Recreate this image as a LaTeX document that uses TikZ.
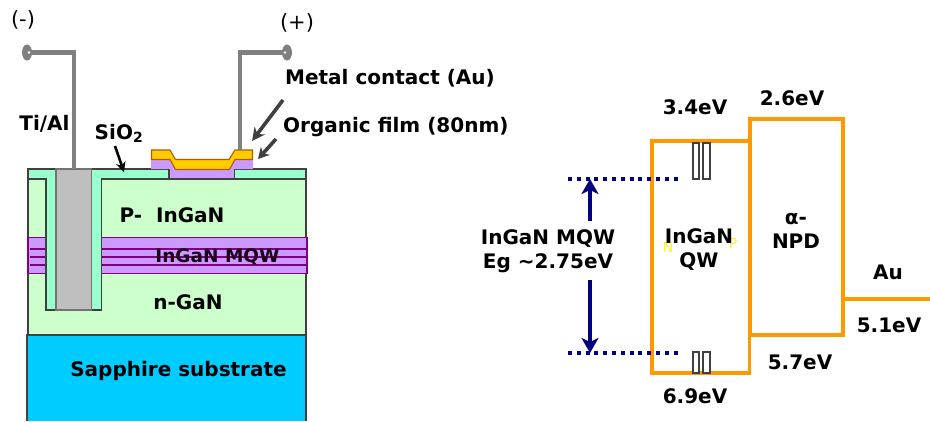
\documentclass[tikz,border=0pt]{standalone}
\usepackage{fontspec}
\setmainfont{DejaVu Sans}
\usetikzlibrary{arrows.meta}
\definecolor{mint}{HTML}{99FFCC}
\definecolor{pale}{HTML}{CCFFCC}
\definecolor{lilac}{HTML}{CC99FF}
\definecolor{sky}{HTML}{00CCFF}
\definecolor{gold}{HTML}{FFCC00}
\definecolor{goldedge}{HTML}{B45A00}
\definecolor{orng}{HTML}{FF9900}
\definecolor{navy}{HTML}{000080}
\definecolor{dk}{HTML}{404040}
\definecolor{wire}{HTML}{808080}
\definecolor{plum}{HTML}{800080}
\tikzset{x=1pt,y=-1pt,
  edge/.style={draw=dk,line width=2.2pt},
  lab/.style={font=\fontsize{20}{24}\selectfont\bfseries,text=black,inner sep=0pt,align=center},
  plain/.style={font=\fontsize{21}{25}\selectfont,text=black,inner sep=0pt},
  wireline/.style={draw=wire,line width=4.4pt},
  band/.style={draw=orng,line width=3.4pt},
  point/.style={-{Stealth[length=13pt,width=13pt]},line width=3.6pt,draw=dk},
  navyarrow/.style={-{Stealth[length=15pt,width=17pt,inset=4pt]},line width=3.6pt,draw=navy},
  level/.style={draw=navy,line width=4pt,dash pattern=on 4pt off 4.8pt},
  well/.style={draw=dk,line width=1.6pt,fill=white}
}
\begin{document}
\begin{tikzpicture}
\useasboundingbox (0,0) rectangle (930,421);
% substrate and body
\fill[sky] (27,335) rectangle (306,421);
\draw[edge] (27,421) -- (27,335) -- (306,335) -- (306,421);
\filldraw[fill=pale,edge] (28,169) rectangle (306,335);
% MQW
\filldraw[fill=lilac,draw=plum,line width=1.4pt] (28,237.5) rectangle (307,273.5);
\foreach \y in {249,257,265}{\draw[plum,line width=1.1pt] (30,\y) -- (306,\y);}
\node[lab,font=\fontsize{18.5}{22}\selectfont\bfseries,text=black!80!plum] at (217.5,257) {InGaN MQW};
% oxide
\filldraw[fill=mint,draw=dk,line width=1.8pt] (46,310) -- (46,179) -- (28,179) -- (28,169) -- (168.5,169) -- (168.5,179) -- (101.5,179) -- (101.5,310) -- cycle;
\filldraw[fill=mint,draw=dk,line width=1.8pt] (306,179) -- (234.5,179) -- (234.5,169) -- (306,169) -- cycle;
% via metal
\filldraw[fill=black!25,draw=black!55,line width=1.4pt] (56,169) rectangle (91.5,310);
% organic film
\fill[lilac] (151,160) -- (170,160) -- (175.5,169) -- (229.5,169) -- (235,160) -- (253,160) -- (253,169) -- (234.5,169) -- (234.5,179) -- (169,179) -- (169,169) -- (151,169) -- cycle;
\draw[dk,line width=1.6pt] (169,169) -- (169,179) -- (234.5,179) -- (234.5,169);
% gold
\filldraw[fill=gold,draw=goldedge,line width=1.1pt] (151.5,150) -- (170,150) -- (175.5,159.5) -- (229,159.5) -- (235,150) -- (252.5,150) -- (252.5,159.5) -- (235,159.5) -- (229.5,169.5) -- (175.5,169.5) -- (170,159.5) -- (151.5,159.5) -- cycle;
% wires
\coordinate (minus) at (27,52.5);
\coordinate (plus) at (287,52.5);
\coordinate (viatop) at (74,169);
\coordinate (goldtop) at (240,150);
\draw[wireline] (minus) -- (74,52.5) -- (viatop);
\draw[wireline] (plus) -- (240,52.5) -- (goldtop);
\fill[wire] (minus) ellipse (5pt and 8pt);
\fill[wire] (plus) ellipse (5pt and 8pt);
\fill[white] (29,52.5) circle (1.4pt);
\fill[white] (285,52.5) circle (1.4pt);
% labels left
\node[plain] (lminus) at (23,20) {(-)};
\node[plain] (lplus) at (297,23) {(+)};
\node[lab] (tial) at (44.5,124) {Ti/Al};
\node[lab] (sio) at (119,133.5) {SiO\textsubscript{2}};
\coordinate (sioend) at (124,172);
\draw[-{Stealth[length=10pt,width=10pt]},line width=2.6pt,draw=black] (115,146) -- (sioend);
\node[lab,anchor=west] (metal) at (285,78) {Metal contact (Au)};
\node[lab,anchor=west] (film) at (283,127) {Organic film (80nm)};
\coordinate (metalfrom) at (283,100);
\coordinate (metalto) at (252,141);
\coordinate (filmfrom) at (276,139);
\coordinate (filmto) at (258,159);
\draw[point] (metalfrom) -- (metalto);
\draw[point,-{Stealth[length=11pt,width=12pt]}] (filmfrom) -- (filmto);
\node[lab] (pin) at (172,215) {P-~~InGaN};
\node[lab] (ngan) at (188,302) {n-GaN};
\node[lab] (sub) at (178.5,371) {Sapphire substrate};
% band diagram
\draw[band] (652,141) rectangle (749.5,373);
\draw[band,line width=4pt] (749.5,119) rectangle (843,335);
\coordinate (auleft) at (843,299);
\coordinate (auright) at (930,299);
\draw[band] (auleft) -- (auright);
\foreach \x/\w in {693/6,703/7}{
  \draw[well] (\x,143) rectangle (\x+\w,179);
  \draw[well] (\x,352) rectangle (\x+\w,373);
}
\draw[level] (568,178.5) -- (680,178.5);
\draw[level] (568,352.5) -- (680,352.5);
\coordinate (upfrom) at (590,221);
\coordinate (upto) at (590,179);
\coordinate (downfrom) at (590,280);
\coordinate (downto) at (590,353);
\draw[navyarrow] (upfrom) -- (upto);
\draw[navyarrow] (downfrom) -- (downto);
\node[lab] (e1) at (695,107) {3.4eV};
\node[lab] (e2) at (792,98) {2.6eV};
\node[lab] (e3) at (800,362) {5.7eV};
\node[lab] (e4) at (695,396) {6.9eV};
\node[lab] (e5) at (889,325) {5.1eV};
\node[lab] (au) at (888,272) {Au};
\node[lab] (mqw) at (548,251) {InGaN MQW\\Eg \textasciitilde2.75eV};
\node[font=\fontsize{14}{16}\selectfont,text=yellow!85!white,inner sep=0pt] (n) at (668,247) {N};
\node[font=\fontsize{14}{16}\selectfont,text=yellow!85!white,inner sep=0pt] (p) at (733,243) {P};
\node[lab] (qw) at (699,250) {InGaN\\QW};
\node[lab] (npd) at (796,231) {α-\\NPD};
\end{tikzpicture}
\end{document}
